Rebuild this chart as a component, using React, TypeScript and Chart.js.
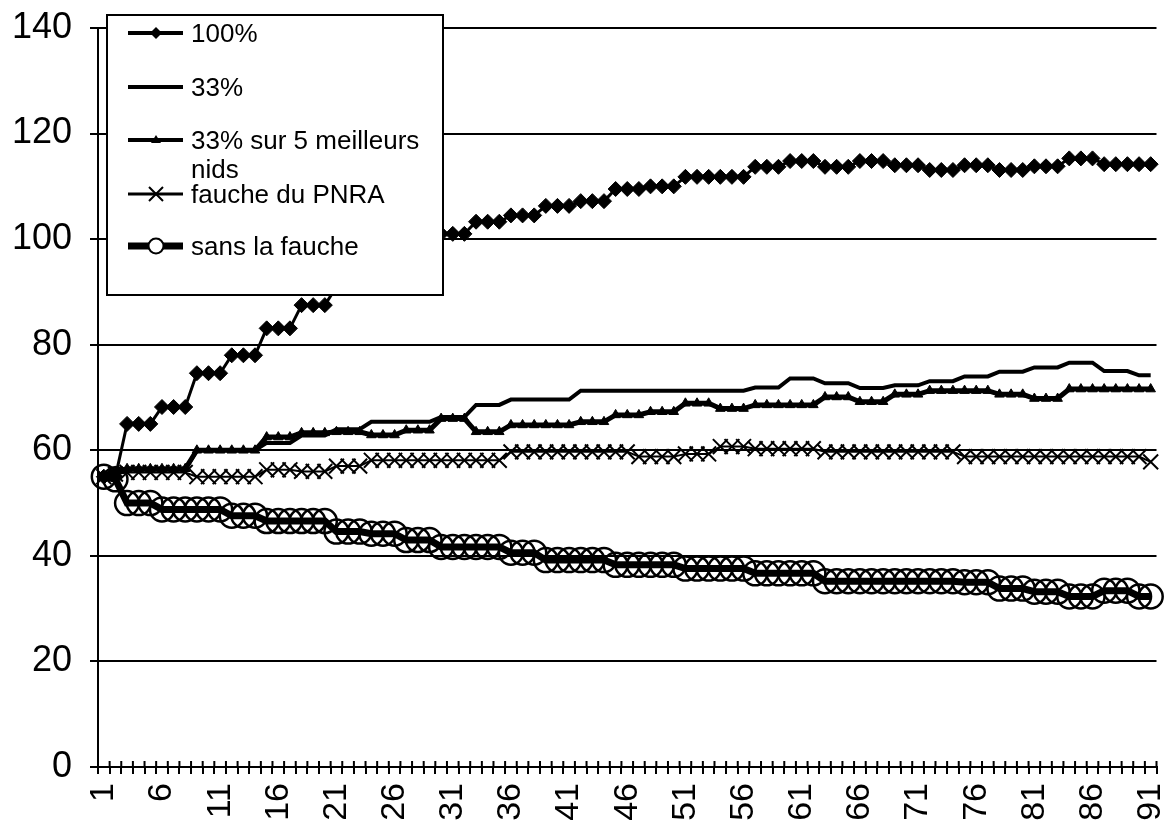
import React, { useEffect, useRef } from 'react';
import { Chart, registerables } from 'chart.js';

Chart.register(...registerables);

const categories = ['1','2','3','4','5','6','7','8','9','10','11','12','13','14','15','16','17','18','19','20','21','22','23','24','25','26','27','28','29','30','31','32','33','34','35','36','37','38','39','40','41','42','43','44','45','46','47','48','49','50','51','52','53','54','55','56','57','58','59','60','61','62','63','64','65','66','67','68','69','70','71','72','73','74','75','76','77','78','79','80','81','82','83','84','85','86','87','88','89','90','91'];

const seriesNames = ['100%', '33%', '33% sur 5 meilleurs nids', 'fauche du PNRA', 'sans la fauche'];

const yTicks = [0, 20, 40, 60, 80, 100, 120, 140];

const hundred = [
  55, 55, 65, 65, 65, 68.2, 68.2, 68.2, 74.6, 74.6,
  74.6, 78, 78, 78, 83.1, 83.1, 83.1, 87.5, 87.5, 87.5,
  91, 91, 91, 94.5, 94.5, 94.5, 98, 98, 98, 101,
  101, 101, 103.3, 103.3, 103.3, 104.5, 104.5, 104.5, 106.3, 106.3,
  106.3, 107.2, 107.2, 107.2, 109.5, 109.5, 109.5, 110, 110, 110,
  111.8, 111.8, 111.8, 111.8, 111.8, 111.8, 113.7, 113.7, 113.7, 114.8,
  114.8, 114.8, 113.7, 113.7, 113.7, 114.8, 114.8, 114.8, 114, 114,
  114, 113.1, 113.1, 113.1, 114, 114, 114, 113.1, 113.1, 113.1,
  113.8, 113.8, 113.8, 115.3, 115.3, 115.3, 114.2, 114.2, 114.2, 114.2, 114.2
];

const thirtyThree = [
  55, 55.5, 56.3, 56.3, 56.3, 56.3, 56.3, 56.3, 60, 60,
  60, 60, 60, 60, 61.4, 61.4, 61.4, 62.8, 62.8, 62.8,
  64, 64, 64, 65.4, 65.4, 65.4, 65.4, 65.4, 65.4, 66.3,
  66.3, 66.3, 68.6, 68.6, 68.6, 69.6, 69.6, 69.6, 69.6, 69.6,
  69.6, 71.3, 71.3, 71.3, 71.3, 71.3, 71.3, 71.3, 71.3, 71.3,
  71.3, 71.3, 71.3, 71.3, 71.3, 71.3, 71.9, 71.9, 71.9, 73.6,
  73.6, 73.6, 72.7, 72.7, 72.7, 71.8, 71.8, 71.8, 72.3, 72.3,
  72.3, 73.1, 73.1, 73.1, 74, 74, 74, 74.9, 74.9, 74.9,
  75.7, 75.7, 75.7, 76.6, 76.6, 76.6, 75, 75, 75, 74.2, 74.2
];

const bestFive = [
  55, 56, 56.5, 56.5, 56.5, 56.5, 56.5, 56.5, 60, 60,
  60, 60, 60, 60, 62.5, 62.5, 62.5, 63.3, 63.3, 63.3,
  63.5, 63.5, 63.5, 62.9, 62.9, 62.9, 63.8, 63.8, 63.8, 66,
  66, 66, 63.5, 63.5, 63.5, 64.8, 64.8, 64.8, 64.8, 64.8,
  64.8, 65.4, 65.4, 65.4, 66.7, 66.7, 66.7, 67.3, 67.3, 67.3,
  68.9, 68.9, 68.9, 67.9, 67.9, 67.9, 68.6, 68.6, 68.6, 68.6,
  68.6, 68.6, 70.1, 70.1, 70.1, 69.2, 69.2, 69.2, 70.6, 70.6,
  70.6, 71.3, 71.3, 71.3, 71.3, 71.3, 71.3, 70.6, 70.6, 70.6,
  69.8, 69.8, 69.8, 71.6, 71.6, 71.6, 71.6, 71.6, 71.6, 71.6, 71.6
];

const faucheValues = [
  55, 55.5, 55.8, 55.8, 55.8, 55.8, 55.8, 55.8, 55, 55,
  55, 55, 55, 55, 56.3, 56.3, 56.3, 56, 56, 56,
  57, 57, 57, 58.1, 58.1, 58.1, 58.1, 58.1, 58.1, 58.1,
  58.1, 58.1, 58.1, 58.1, 58.1, 59.7, 59.7, 59.7, 59.7, 59.7,
  59.7, 59.7, 59.7, 59.7, 59.7, 59.7, 58.8, 58.8, 58.8, 58.8,
  59.3, 59.3, 59.3, 60.7, 60.7, 60.7, 60.3, 60.3, 60.3, 60.3,
  60.3, 60.3, 59.7, 59.7, 59.7, 59.7, 59.7, 59.7, 59.7, 59.7,
  59.7, 59.7, 59.7, 59.7, 58.8, 58.8, 58.8, 58.8, 58.8, 58.8,
  58.8, 58.8, 58.8, 58.8, 58.8, 58.8, 58.8, 58.8, 58.8, 58.8, 57.8
];

const sansFauche = [
  55, 54.5, 50, 50, 50, 48.8, 48.8, 48.8, 48.8, 48.8,
  48.8, 47.6, 47.6, 47.6, 46.6, 46.6, 46.6, 46.6, 46.6, 46.6,
  44.6, 44.6, 44.6, 44.2, 44.2, 44.2, 43, 43, 43, 41.7,
  41.7, 41.7, 41.7, 41.7, 41.7, 40.6, 40.6, 40.6, 39.2, 39.2,
  39.2, 39.2, 39.2, 39.2, 38.3, 38.3, 38.3, 38.3, 38.3, 38.3,
  37.6, 37.6, 37.6, 37.6, 37.6, 37.6, 36.7, 36.7, 36.7, 36.7,
  36.7, 36.7, 35.2, 35.2, 35.2, 35.2, 35.2, 35.2, 35.2, 35.2,
  35.2, 35.2, 35.2, 35.2, 35, 35, 35, 33.8, 33.8, 33.8,
  33.2, 33.2, 33.2, 32.3, 32.3, 32.3, 33.4, 33.4, 33.4, 32.3, 32.3
];

const FONT = "'Liberation Sans', Arial, sans-serif";

function drawMarker(ctx: CanvasRenderingContext2D, kind: string, x: number, y: number) {
  ctx.save();
  ctx.strokeStyle = '#000';
  ctx.fillStyle = '#000';
  if (kind === 'rectRot') {
    const r = 6;
    ctx.beginPath();
    ctx.moveTo(x, y - r); ctx.lineTo(x + r, y); ctx.lineTo(x, y + r); ctx.lineTo(x - r, y); ctx.closePath();
    ctx.fill();
  } else if (kind === 'triangle') {
    const r = 5;
    ctx.beginPath();
    ctx.moveTo(x, y - r); ctx.lineTo(x + r, y + r * 0.6); ctx.lineTo(x - r, y + r * 0.6); ctx.closePath();
    ctx.fill();
  } else if (kind === 'crossRot') {
    const r = 7;
    ctx.lineWidth = 2;
    ctx.beginPath();
    ctx.moveTo(x - r, y - r); ctx.lineTo(x + r, y + r);
    ctx.moveTo(x + r, y - r); ctx.lineTo(x - r, y + r);
    ctx.stroke();
  } else if (kind === 'circle') {
    ctx.lineWidth = 2;
    ctx.beginPath();
    ctx.arc(x, y, 7.5, 0, Math.PI * 2);
    ctx.fillStyle = '#fff';
    ctx.fill();
    ctx.stroke();
  }
  ctx.restore();
}

const legendRows = [
  { y: 33, lw: 4, marker: 'rectRot' },
  { y: 87, lw: 4, marker: 'none' },
  { y: 140, lw: 4, marker: 'triangle' },
  { y: 194, lw: 3, marker: 'crossRot' },
  { y: 246, lw: 7, marker: 'circle' },
];

const legendPlugin = {
  id: 'excelLegend',
  afterDraw(chart: any) {
    const ctx: CanvasRenderingContext2D = chart.ctx;
    ctx.save();
    const bx = 107, by = 15, bw = 336, bh = 280;
    ctx.fillStyle = '#fff';
    ctx.fillRect(bx, by, bw, bh);
    ctx.strokeStyle = '#000';
    ctx.lineWidth = 2;
    ctx.strokeRect(bx, by, bw, bh);
    ctx.font = `26px ${FONT}`;
    ctx.textBaseline = 'middle';
    ctx.textAlign = 'left';
    const textX = 191;
    const maxW = bx + bw - textX - 6;
    seriesNames.forEach((name, i) => {
      const row = legendRows[i];
      ctx.strokeStyle = '#000';
      ctx.lineWidth = row.lw;
      ctx.beginPath();
      ctx.moveTo(128, row.y);
      ctx.lineTo(183, row.y);
      ctx.stroke();
      drawMarker(ctx, row.marker, 156, row.y);
      const words = name.split(' ');
      const lines: string[] = [];
      let cur = '';
      words.forEach((w) => {
        const test = cur ? cur + ' ' + w : w;
        if (ctx.measureText(test).width > maxW && cur) {
          lines.push(cur);
          cur = w;
        } else {
          cur = test;
        }
      });
      if (cur) lines.push(cur);
      ctx.fillStyle = '#000';
      lines.forEach((ln, j) => {
        ctx.fillText(ln, textX, row.y + 2 + j * 29);
      });
    });
    ctx.restore();
  },
};

const crossTicksPlugin = {
  id: 'crossTicks',
  afterDraw(chart: any) {
    const xs = chart.scales.x;
    const ctx: CanvasRenderingContext2D = chart.ctx;
    const n = categories.length;
    const step = (xs.right - xs.left) / n;
    ctx.save();
    ctx.strokeStyle = '#000';
    ctx.lineWidth = 2;
    ctx.beginPath();
    for (let i = 0; i <= n; i++) {
      const x = xs.left + i * step;
      ctx.moveTo(x, xs.top - 6);
      ctx.lineTo(x, xs.top);
    }
    ctx.stroke();
    ctx.restore();
  },
};

export default function App() {
  const canvasRef = useRef<HTMLCanvasElement | null>(null);

  useEffect(() => {
    const canvas = canvasRef.current;
    if (!canvas) return;
    const black = '#000000';
    const chart = new Chart(canvas, {
      type: 'line',
      data: {
        labels: categories,
        datasets: [
          {
            label: seriesNames[0],
            data: hundred,
            borderColor: black,
            backgroundColor: black,
            borderWidth: 3,
            pointStyle: 'rectRot',
            pointRadius: 7.5,
            pointBackgroundColor: black,
            pointBorderColor: black,
            pointBorderWidth: 1,
            order: 4,
            clip: false,
          },
          {
            label: seriesNames[1],
            data: thirtyThree,
            borderColor: black,
            backgroundColor: black,
            borderWidth: 4,
            pointRadius: 0,
            order: 3,
            clip: false,
          },
          {
            label: seriesNames[2],
            data: bestFive,
            borderColor: black,
            backgroundColor: black,
            borderWidth: 5,
            pointStyle: 'triangle',
            pointRadius: 5.5,
            pointBackgroundColor: black,
            pointBorderColor: black,
            pointBorderWidth: 1,
            order: 2,
            clip: false,
          },
          {
            label: seriesNames[3],
            data: faucheValues,
            borderColor: black,
            backgroundColor: black,
            borderWidth: 2,
            pointStyle: 'crossRot',
            pointRadius: 10.5,
            pointBorderColor: black,
            pointBorderWidth: 2,
            order: 1,
            clip: false,
          },
          {
            label: seriesNames[4],
            data: sansFauche,
            borderColor: black,
            backgroundColor: 'rgba(0,0,0,0)',
            borderWidth: 7,
            pointStyle: 'circle',
            pointRadius: 12,
            pointBackgroundColor: 'rgba(0,0,0,0)',
            pointBorderColor: black,
            pointBorderWidth: 2.5,
            order: 0,
            clip: false,
          },
        ],
      },
      options: {
        responsive: false,
        animation: false,
        devicePixelRatio: 1,
        layout: { padding: { top: 28, right: 9, left: 0, bottom: 0 } },
        plugins: {
          legend: { display: false },
          tooltip: { enabled: false },
          title: { display: false },
        },
        elements: { line: { tension: 0 } },
        scales: {
          x: {
            type: 'category',
            offset: true,
            grid: {
              display: true,
              drawOnChartArea: false,
              drawTicks: true,
              tickLength: 7,
              offset: true,
              color: black,
              lineWidth: 2,
            },
            border: { display: true, color: black, width: 2 },
            ticks: {
              autoSkip: false,
              maxRotation: 90,
              minRotation: 90,
              padding: 9,
              color: black,
              font: { size: 34, family: FONT },
              callback: (_v: any, i: number) => (i % 5 === 0 ? categories[i] : ''),
            },
            afterFit: (s: any) => {
              s.height = 58;
              s.paddingLeft = 0;
              s.paddingRight = 0;
            },
          },
          y: {
            min: 0,
            max: 140,
            afterBuildTicks: (s: any) => {
              s.ticks = yTicks.map((v) => ({ value: v }));
            },
            grid: {
              display: true,
              drawOnChartArea: true,
              drawTicks: true,
              tickLength: 8,
              color: black,
              lineWidth: 2,
            },
            border: { display: true, color: black, width: 2 },
            ticks: {
              padding: 18,
              color: black,
              font: { size: 36, family: FONT },
            },
            afterFit: (s: any) => {
              s.width = 98;
              s.paddingTop = 0;
              s.paddingBottom = 0;
            },
          },
        },
      },
      plugins: [crossTicksPlugin, legendPlugin],
    });
    return () => {
      chart.destroy();
    };
  }, []);

  return (
    <div style={{ position: 'fixed', left: 0, top: 0, width: 1171, height: 825, overflow: 'hidden', background: '#fff' }}>
      <canvas ref={canvasRef} width={1171} height={825} style={{ display: 'block', width: 1171, height: 825 }} />
    </div>
  );
}
